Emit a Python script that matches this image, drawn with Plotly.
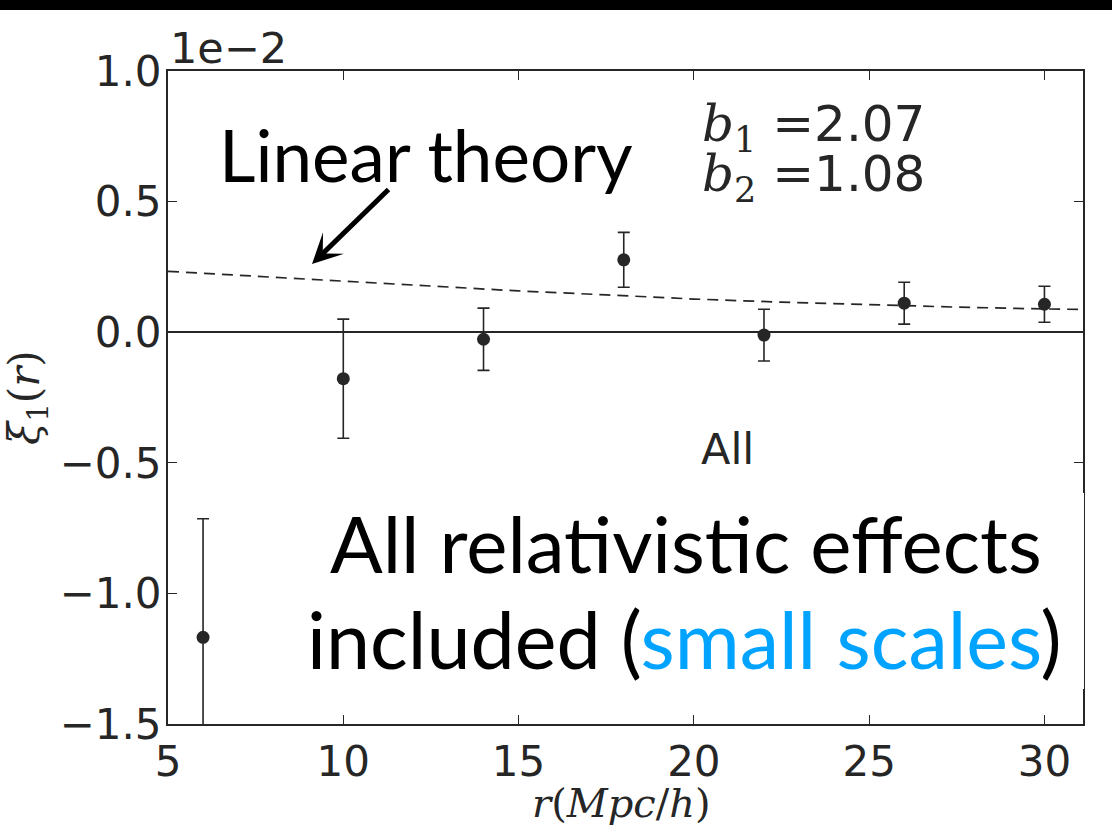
import plotly.graph_objects as go

# ---- data (xi_1 in units of 1e-2) ----
r_obs = [6, 10, 14, 18, 22, 26, 30]
xi_obs = [-1.168, -0.178, -0.027, 0.277, -0.011, 0.111, 0.107]
xi_err = [0.454, 0.228, 0.119, 0.105, 0.099, 0.080, 0.069]

r_lin = [5, 7.5, 10, 12.5, 15, 17.5, 20, 22.5, 25, 27.5, 30, 31.1]
xi_lin = [0.233, 0.214, 0.196, 0.176, 0.158, 0.143, 0.127, 0.115, 0.105, 0.096, 0.089, 0.087]

x_ticks = [5, 10, 15, 20, 25, 30]
y_ticks = [-1.5, -1.0, -0.5, 0.0, 0.5, 1.0]

W, H = 1112, 830
L, R, T, B = 168, 1083, 71, 724


def px(x):
    return (x - L) / (R - L)


def py(y):
    return (B - y) / (B - T)


DARK = "#262626"
fig = go.Figure()

fig.add_trace(go.Scatter(
    x=r_lin, y=xi_lin, mode="lines",
    line=dict(color=DARK, width=1.7, dash="11px,7px"),
    showlegend=False, hoverinfo="skip"))

fig.add_trace(go.Scatter(
    x=r_obs, y=xi_obs, mode="markers",
    marker=dict(color=DARK, size=13),
    error_y=dict(type="data", array=xi_err, visible=True, color=DARK,
                 thickness=1.6, width=6),
    showlegend=False))

axis_common = dict(
    showgrid=False, showline=True, linecolor=DARK, linewidth=2,
    mirror="ticks", ticks="inside", ticklen=9, tickwidth=1.2, tickcolor=DARK,
    tickfont=dict(family="DejaVu Sans", size=42, color=DARK),
)

fig.update_xaxes(range=[5, 31.1], tickvals=x_ticks, zeroline=False, **axis_common)
fig.update_yaxes(range=[-1.5, 1.0], tickvals=y_ticks, tickformat=".1f",
                 zeroline=True, zerolinecolor=DARK, zerolinewidth=1.6,
                 ticklabelstandoff=-4, **axis_common)

shapes = [
    # black bar at top of the slide
    dict(type="rect", xref="paper", yref="paper", x0=px(-5), x1=px(W + 5),
         y0=py(10), y1=py(-5), fillcolor="black", line=dict(width=0), layer="above"),
    # white box behind the big caption
    dict(type="rect", xref="paper", yref="paper", x0=px(300), x1=px(1084),
         y0=py(689), y1=py(493), fillcolor="white", line=dict(width=0), layer="above"),
]

SERIF = "font-family:DejaVu Serif"
ann = []
ann.append(dict(text="1e\u22122", xref="paper", yref="paper", x=px(168), y=py(48),
                xanchor="left", yanchor="middle", showarrow=False,
                font=dict(family="DejaVu Sans", size=43, color=DARK)))
for label, val, yc in [("1", "2.07", 127), ("2", "1.08", 177)]:
    ann.append(dict(
        text=f"<span style='{SERIF}'><i>b</i><sub>{label}</sub> =</span>{val}",
        xref="paper", yref="paper", x=px(700), y=py(yc),
        xanchor="left", yanchor="middle", showarrow=False,
        font=dict(family="DejaVu Sans", size=50, color=DARK)))
ann.append(dict(text="All", xref="paper", yref="paper", x=px(727), y=py(449),
                xanchor="center", yanchor="middle", showarrow=False,
                font=dict(family="DejaVu Sans", size=43, color=DARK)))
ann.append(dict(text="Linear theory", xref="paper", yref="paper", x=px(426), y=py(154),
                xanchor="center", yanchor="middle", showarrow=False,
                font=dict(family="Lato", size=71, color="black")))
ann.append(dict(text=" ", xref="paper", yref="paper", x=px(312), y=py(264),
                ax=78, ay=-76, axref="pixel", ayref="pixel",
                showarrow=True, arrowhead=3, arrowsize=1, arrowwidth=5,
                arrowcolor="black", font=dict(size=1)))
ann.append(dict(text="All relativistic effects", xref="paper", yref="paper",
                x=px(686), y=py(543), xanchor="center", yanchor="middle",
                showarrow=False, font=dict(family="Lato", size=78, color="black")))
ann.append(dict(text="included (<span style='color:#00A3FF'>small scales</span>)",
                xref="paper", yref="paper", x=px(684), y=py(638),
                xanchor="center", yanchor="middle",
                showarrow=False, font=dict(family="Lato", size=79, color="black")))
ann.append(dict(text="<i>\u03be</i><sub>1</sub>(<i>r</i>)", xref="paper", yref="paper",
                x=px(28), y=py(398), xanchor="center", yanchor="middle",
                textangle=-90, showarrow=False,
                font=dict(family="DejaVu Serif", size=42, color=DARK)))
ann.append(dict(text="<i>r</i>(<i>Mpc</i>/<i>h</i>)", xref="paper", yref="paper",
                x=px(621), y=py(803), xanchor="center", yanchor="middle",
                showarrow=False,
                font=dict(family="DejaVu Serif", size=40, color=DARK)))

fig.update_layout(
    width=W, height=H,
    margin=dict(l=L, r=W - R, t=T, b=H - B),
    paper_bgcolor="white", plot_bgcolor="white",
    shapes=shapes, annotations=ann,
)

fig.write_html("out.html")
